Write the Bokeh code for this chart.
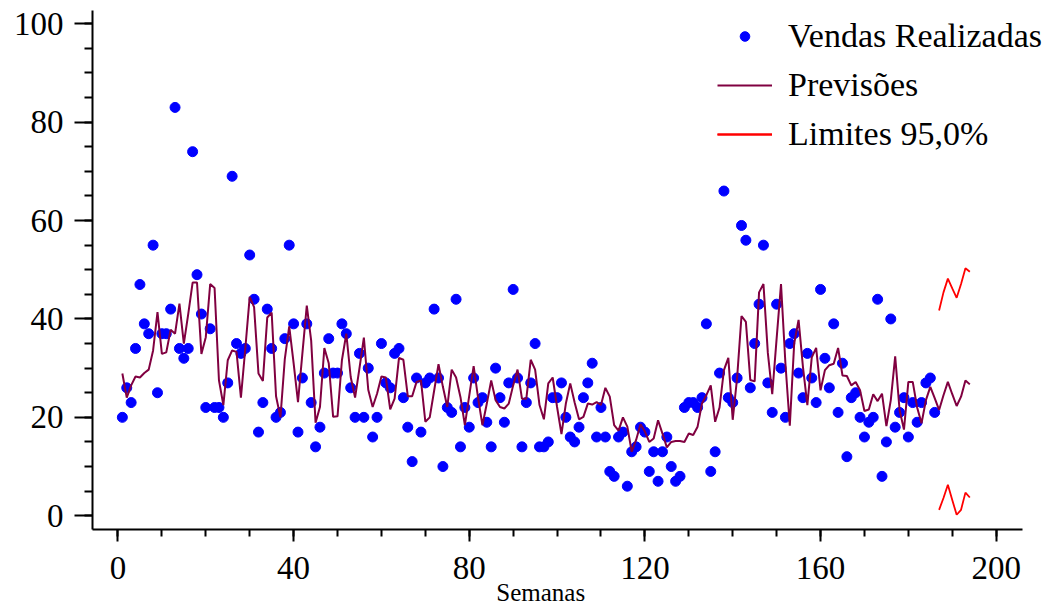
from bokeh.plotting import figure
from bokeh.models import Range1d, FixedTicker, Legend, LegendItem
from bokeh.embed import file_html
from bokeh.resources import INLINE

# Weekly sales observed (weeks 1..186)
weeks_obs = list(range(1, 187))
sales = [
    20, 26, 23, 34, 47, 39, 37, 55, 25, 37,
    37, 42, 83, 34, 32, 34, 74, 49, 41, 22,
    38, 22, 22, 20, 27, 69, 35, 33, 34, 53,
    44, 17, 23, 42, 34, 20, 21, 36, 55, 39,
    17, 28, 39, 23, 14, 18, 29, 36, 29, 29,
    39, 37, 26, 20, 33, 20, 30, 16, 20, 35,
    27, 26, 33, 34, 24, 18, 11, 28, 17, 27,
    28, 42, 28, 10, 22, 21, 44, 14, 22, 18,
    28, 23, 24, 19, 14, 30, 24, 19, 27, 46,
    28, 14, 23, 27, 35, 14, 14, 15, 24, 24,
    27, 20, 16, 15, 18, 24, 27, 31, 16, 22,
    16, 9, 8, 16, 17, 6, 13, 14, 18, 17,
    9, 13, 7, 13, 16, 10, 7, 8, 22, 23,
    23, 22, 24, 39, 9, 13, 29, 66, 24, 23,
    28, 59, 56, 26, 35, 43, 55, 27, 21, 43,
    30, 20, 35, 37, 29, 24, 33, 28, 23, 46,
    32, 26, 39, 21, 31, 12, 24, 25, 20, 16,
    19, 20, 44, 8, 15, 40, 18, 21, 24, 16,
    23, 19, 23, 27, 28, 21,
]

# One-step forecasts (weeks 1..186) followed by the forecast horizon (187..194)
forecast_fit = [
    28.9, 24.0, 26.5, 28.3, 28.1, 29.0, 29.7, 33.6, 41.4, 32.9,
    33.2, 37.8, 37.0, 43.1, 35.0, 41.0, 47.4, 47.4, 32.9, 36.3,
    47.1, 46.3, 27.5, 22.5, 31.6, 33.6, 33.3, 24.0, 34.0, 44.5,
    42.4, 28.9, 27.4, 40.3, 41.3, 24.3, 20.0, 31.9, 38.5, 31.0,
    23.1, 33.0, 42.7, 35.6, 18.9, 22.1, 34.1, 31.0, 20.1, 20.2,
    31.6, 37.0, 28.2, 24.0, 30.0, 36.2, 25.6, 22.1, 24.8, 28.3,
    28.1, 21.6, 23.8, 32.1, 31.7, 24.3, 24.3, 27.2, 27.5, 19.1,
    20.0, 25.4, 30.8, 26.2, 22.1, 29.7, 28.1, 24.1, 18.4, 24.4,
    30.4, 24.0, 18.4, 22.8, 27.5, 23.5, 22.1, 21.8, 22.8, 26.5,
    29.7, 23.8, 23.8, 31.7, 29.7, 22.5, 19.6, 26.9, 28.1, 22.1,
    16.6, 22.8, 26.9, 23.0, 19.6, 20.1, 22.8, 22.6, 23.1, 22.5,
    26.0, 24.2, 18.4, 17.3, 20.0, 18.1, 13.0, 15.4, 18.6, 17.1,
    15.0, 15.7, 19.4, 16.7, 13.9, 15.0, 15.2, 15.2, 15.0, 16.7,
    16.4, 18.1, 22.8, 24.5, 26.5, 19.1, 22.0, 29.6, 32.1, 19.5,
    28.0, 40.6, 39.4, 27.6, 27.3, 45.4, 47.1, 33.1, 24.7, 36.0,
    47.1, 31.0, 18.3, 35.0, 39.8, 30.2, 22.5, 32.2, 34.1, 25.5,
    29.6, 30.6, 30.9, 34.1, 28.5, 28.4, 26.5, 27.2, 25.5, 21.3,
    21.6, 24.7, 23.3, 24.8, 18.2, 23.5, 32.4, 21.5, 17.5, 27.2,
    27.2, 22.0, 18.8, 23.5, 26.2, 23.9,
]
forecast_ahead = [21.5, 24.5, 27.2, 24.7, 22.3, 24.2, 27.5, 26.7]
forecast = forecast_fit + forecast_ahead
weeks_fc = list(range(1, 195))

# 95% limits over the forecast horizon
weeks_lim = list(range(187, 195))
upper = [41.7, 45.4, 48.2, 46.2, 44.3, 47.1, 50.3, 49.6]
lower = [1.2, 3.6, 6.3, 3.2, 0.2, 1.2, 4.7, 3.7]

x_ticks = [0, 40, 80, 120, 160, 200]
y_ticks = [0, 20, 40, 60, 80, 100]

SERIF = "Liberation Serif"
X_START, X_AXIS_END = -5.8, 206.1

# The frame runs to the right edge so the legend text is not clipped;
# the x axis line itself stops at X_AXIS_END.
p = figure(
    width=1051, height=609,
    x_range=Range1d(X_START, 212.6), y_range=Range1d(-2.8, 102.7),
    output_backend="svg", toolbar_location=None,
    min_border_left=92, min_border_right=0, min_border_top=10, min_border_bottom=80,
)
p.outline_line_color = None
p.grid.visible = False
p.background_fill_color = "white"
p.border_fill_color = "white"

r_pts = p.scatter(weeks_obs, sales, size=10, color="#0000FF", marker="circle")
r_fc = p.line(weeks_fc, forecast, line_color="#800040", line_width=2)
r_up = p.line(weeks_lim, upper, line_color="#FF0000", line_width=1.8)
r_lo = p.line(weeks_lim, lower, line_color="#FF0000", line_width=1.8)

xa = p.xaxis[0]
ya = p.yaxis[0]
xa.bounds = (X_START, X_AXIS_END)
xa.ticker = FixedTicker(ticks=x_ticks, minor_ticks=list(range(0, 201, 10)))
ya.ticker = FixedTicker(ticks=y_ticks, minor_ticks=list(range(0, 101, 5)))
for ax in (xa, ya):
    ax.axis_line_width = 2
    ax.axis_line_color = "black"
    ax.major_tick_line_width = 2
    ax.minor_tick_line_width = 2
    ax.major_tick_in = 0
    ax.minor_tick_in = 0
    ax.major_label_text_font = SERIF
    ax.major_label_text_font_size = "33px"
    ax.major_label_text_color = "black"
xa.major_tick_out = 12
xa.minor_tick_out = 7
xa.major_label_standoff = 15
ya.major_tick_out = 18
ya.minor_tick_out = 8
ya.major_label_standoff = 11

# Trailing no-break spaces pull the centred title left, under the axis line's middle
xa.axis_label = "Semanas" + "\u00a0" * 10
xa.axis_label_text_font = SERIF
xa.axis_label_text_font_size = "25px"
xa.axis_label_text_font_style = "normal"
xa.axis_label_text_color = "black"
xa.axis_label_standoff = -3

legend = Legend(
    items=[
        LegendItem(label="Vendas Realizadas", renderers=[r_pts]),
        LegendItem(label="Previsões", renderers=[r_fc]),
        LegendItem(label="Limites 95,0%", renderers=[r_up, r_lo]),
    ],
    location=(625, 375), orientation="vertical",
    padding=0, margin=0, spacing=8,
    glyph_width=55, glyph_height=24, label_height=41, label_standoff=16,
    label_text_font=SERIF, label_text_font_size="34px", label_text_color="black",
    border_line_color=None, background_fill_alpha=0,
)
p.add_layout(legend)

open("out.html", "w").write(file_html(p, INLINE))
